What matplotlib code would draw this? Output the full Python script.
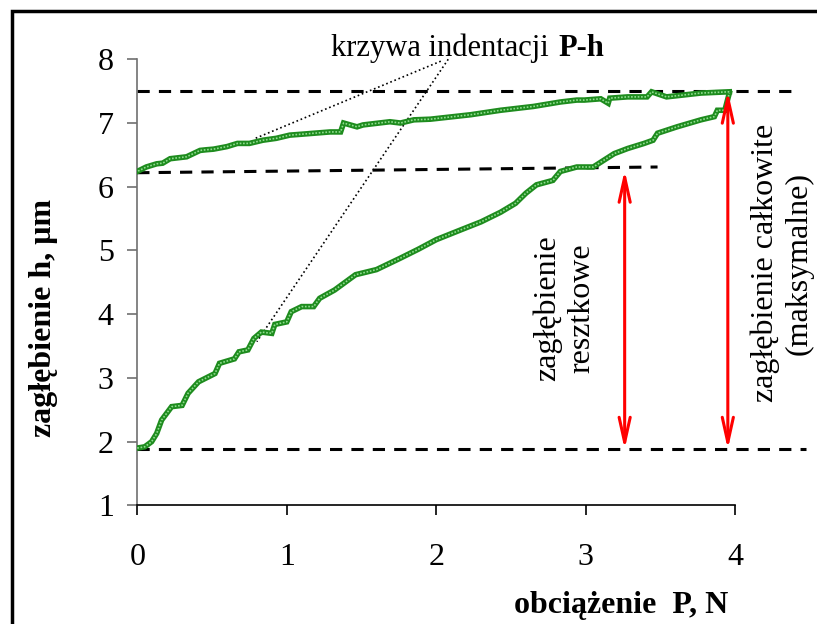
import matplotlib
matplotlib.use("Agg")
import matplotlib.pyplot as plt
from matplotlib.patches import Rectangle

plt.rcParams['font.family'] = ['Liberation Serif', 'DejaVu Serif']

# ---- dane ----
# obciążanie (krzywa dolna)
load_P = [0.0, 0.05, 0.096, 0.13, 0.163, 0.23, 0.30, 0.34, 0.41, 0.52, 0.55, 0.65, 0.68,
          0.74, 0.78, 0.83, 0.90, 0.92, 1.0, 1.03, 1.10, 1.18, 1.22, 1.32, 1.46, 1.60,
          1.76, 1.88, 2.0, 2.16, 2.30, 2.43, 2.53, 2.60, 2.67, 2.78, 2.83, 2.94, 3.05,
          3.19, 3.28, 3.39, 3.45, 3.48, 3.61, 3.77, 3.86, 3.88, 3.93, 3.96]
load_h = [1.90, 1.92, 2.0, 2.13, 2.34, 2.55, 2.57, 2.76, 2.94, 3.07, 3.23, 3.30, 3.41,
          3.44, 3.62, 3.72, 3.70, 3.84, 3.88, 4.04, 4.12, 4.12, 4.25, 4.38, 4.62, 4.70,
          4.88, 5.02, 5.17, 5.32, 5.45, 5.60, 5.74, 5.90, 6.03, 6.10, 6.24, 6.31, 6.31,
          6.52, 6.60, 6.68, 6.73, 6.84, 6.94, 7.05, 7.10, 7.20, 7.20, 7.47]
# odciążanie (krzywa górna)
unload_P = [3.96, 3.77, 3.54, 3.44, 3.41, 3.28, 3.16, 3.15, 3.10, 2.99, 2.94, 2.83, 2.65,
            2.43, 2.23, 1.96, 1.85, 1.76, 1.69, 1.51, 1.47, 1.38, 1.36, 1.29, 1.13, 1.02,
            0.93, 0.84, 0.75, 0.67, 0.60, 0.51, 0.46, 0.42, 0.33, 0.22, 0.17, 0.13, 0.06, 0.0]
unload_h = [7.49, 7.47, 7.41, 7.49, 7.41, 7.41, 7.39, 7.31, 7.38, 7.36, 7.36, 7.33, 7.26,
            7.20, 7.13, 7.06, 7.05, 7.00, 7.02, 6.97, 6.94, 7.00, 6.86, 6.86, 6.83, 6.81,
            6.76, 6.73, 6.68, 6.68, 6.63, 6.59, 6.58, 6.57, 6.47, 6.44, 6.37, 6.36, 6.31, 6.24]

h_max = 7.5
h_res = [6.22, 6.31]
h_start = 1.88
arrow_res_P = 3.26
arrow_max_P = 3.95

fig = plt.figure(figsize=(8.17, 6.24), dpi=100)
ax = fig.add_axes([0.168, 0.19, 0.732, 0.715])

# linie przerywane
ax.plot([0, 4.38], [h_max, h_max], ls=(0, (4, 3)), color='black', lw=2.2, clip_on=False)
ax.plot([0, 3.48], h_res, ls=(0, (4, 3)), color='black', lw=2.2, clip_on=False)
ax.plot([0, 4.47], [h_start, h_start], ls=(0, (4, 3)), color='black', lw=2.2, clip_on=False)

# krzywa P-h
for P, h in [(load_P, load_h), (unload_P, unload_h)]:
    ax.plot(P, h, color='#1e8c1e', lw=4, solid_joinstyle='miter', zorder=3)
    ax.plot(P, h, color='#8fdc8f', lw=1.2, ls=(0, (1, 1)), zorder=4)

# strzałki
for xp, top in [(arrow_res_P, 6.26), (arrow_max_P, h_max)]:
    ax.annotate('', xy=(xp, top), xytext=(xp, h_start),
                arrowprops=dict(arrowstyle='<->,head_length=1.8,head_width=0.4',
                                color='red', lw=2.2, shrinkA=0, shrinkB=0,
                                mutation_scale=10), zorder=5)

# opis krzywej
ax.plot([2.03, 0.78], [7.97, 6.75], ls=':', color='black', lw=1.2, clip_on=False)
ax.plot([2.08, 0.80], [8.0, 3.57], ls=':', color='black', lw=1.2, clip_on=False)
ax.text(2.75, 8.05, 'krzywa indentacji', ha='right', va='baseline', fontsize=22)
ax.text(2.82, 8.05, 'P-h', ha='left', va='baseline', fontsize=22, fontweight='bold')

ax.text(2.86, 4.1, 'zagłębienie\nresztkowe', rotation=90, ha='center', va='center',
        fontsize=23, linespacing=1.25)
ax.text(4.31, 4.8, 'zagłębienie całkowite\n(maksymalne)', rotation=90, ha='center',
        va='center', fontsize=23, linespacing=1.2)

ax.set_xlim(0, 4)
ax.set_ylim(1, 8)
ax.set_xticks([0, 1, 2, 3, 4])
ax.set_yticks(range(1, 9))
ax.spines['top'].set_visible(False)
ax.spines['right'].set_visible(False)
ax.spines['left'].set_color('#707070')
ax.spines['left'].set_linewidth(1.2)
ax.spines['bottom'].set_linewidth(1.2)
ax.tick_params(axis='y', direction='out', length=7, width=1.2, color='#707070',
               labelsize=23, pad=10)
ax.tick_params(axis='x', direction='out', length=7, width=1.2, labelsize=23, pad=20)

fig.text(44 / 817, 1 - 318 / 624, 'zagłębienie h, μm', rotation=90, ha='center',
         va='center', fontsize=23, fontweight='bold')
fig.text(621 / 817, 1 - 606 / 624, 'obciążenie  P, N', ha='center', va='center',
         fontsize=23, fontweight='bold')

# ramka wokół rysunku
fig.patches.append(Rectangle((12 / 817, -0.05), 1.1, 1.05 - 11 / 624, fill=False,
                             lw=2.5, edgecolor='black', transform=fig.transFigure))

fig.savefig('out.png', dpi=100)
